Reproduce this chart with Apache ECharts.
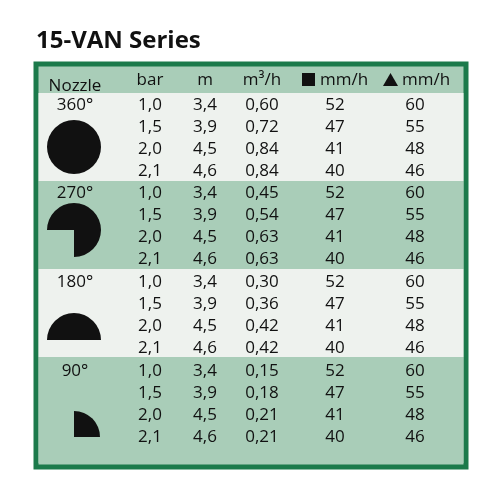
<!DOCTYPE html>
<html><head><meta charset="utf-8">
<script src="https://cdn.jsdelivr.net/npm/echarts@6/dist/echarts.min.js"></script>
<style>html,body{margin:0;background:#fff}#c{width:500px;height:500px}</style>
</head><body><div id="c"></div>
<script>
var title = "15-VAN Series";
var headers = ["Nozzle","bar","m","m³/h","mm/h","mm/h"];
var nozzles = ["360°","270°","180°","90°"];
var bar = ["1,0","1,5","2,0","2,1"];
var meters = ["3,4","3,9","4,5","4,6"];
var flow = [["0,60","0,72","0,84","0,84"],["0,45","0,54","0,63","0,63"],["0,30","0,36","0,42","0,42"],["0,15","0,18","0,21","0,21"]];
var precSquare = ["52","47","41","40"];
var precTriangle = ["60","55","48","46"];

var chart = echarts.init(document.getElementById('c'));
var F = "'Open Sans', sans-serif";
var g = [];
var bands = [[93,181,'#eef2ee'],[181,269,'#a9cdb8'],[269,357,'#eef2ee'],[357,463,'#a9cdb8']];
g.push({type:'rect',shape:{x:36,y:64,width:430,height:403},style:{fill:'#a9cdb8',stroke:'#1c7a4b',lineWidth:5}});
bands.forEach(function(b){g.push({type:'rect',shape:{x:38.5,y:b[0],width:425,height:b[1]-b[0]},style:{fill:b[2]}});});
g.push({type:'text',left:36,top:29,style:{text:title,font:"bold 24px "+F,fill:'#111'}});
var cols = [75,150,205,262,335,415];
function txt(x,y,s){g.push({type:'text',x:x,y:y,style:{text:s,font:"17px "+F,fill:'#111',align:'center',verticalAlign:'middle'}});}
txt(cols[0],86,headers[0]);
txt(cols[1],80,headers[1]);txt(cols[2],80,headers[2]);txt(cols[3],80,headers[3]);
txt(344,80,headers[4]);txt(426,80,headers[5]);
g.push({type:'rect',shape:{x:302,y:73,width:13,height:13},style:{fill:'#111'}});
g.push({type:'polygon',shape:{points:[[383,86],[398,86],[390.5,73]]},style:{fill:'#111'}});
var starts = [105,193,282,371];
nozzles.forEach(function(n,i){
  var y0 = starts[i];
  txt(cols[0],y0,n);
  for(var r=0;r<4;r++){
    var y=y0+r*22;
    txt(cols[1],y,bar[r]);txt(cols[2],y,meters[r]);txt(cols[3],y,flow[i][r]);
    txt(cols[4],y,precSquare[r]);txt(cols[5],y,precTriangle[r]);
  }
});
g.push({type:'circle',shape:{cx:74,cy:147,r:27},style:{fill:'#111'}});
g.push({type:'sector',shape:{cx:74,cy:230,r:27,r0:0,startAngle:Math.PI,endAngle:Math.PI*2.5,clockwise:true},style:{fill:'#111'}});
g.push({type:'sector',shape:{cx:74,cy:340,r:27,r0:0,startAngle:Math.PI,endAngle:Math.PI*2,clockwise:true},style:{fill:'#111'}});
g.push({type:'sector',shape:{cx:74,cy:437,r:26,r0:0,startAngle:-Math.PI/2,endAngle:0,clockwise:true},style:{fill:'#111'}});
chart.setOption({animation:false,graphic:g});
</script></body></html>
